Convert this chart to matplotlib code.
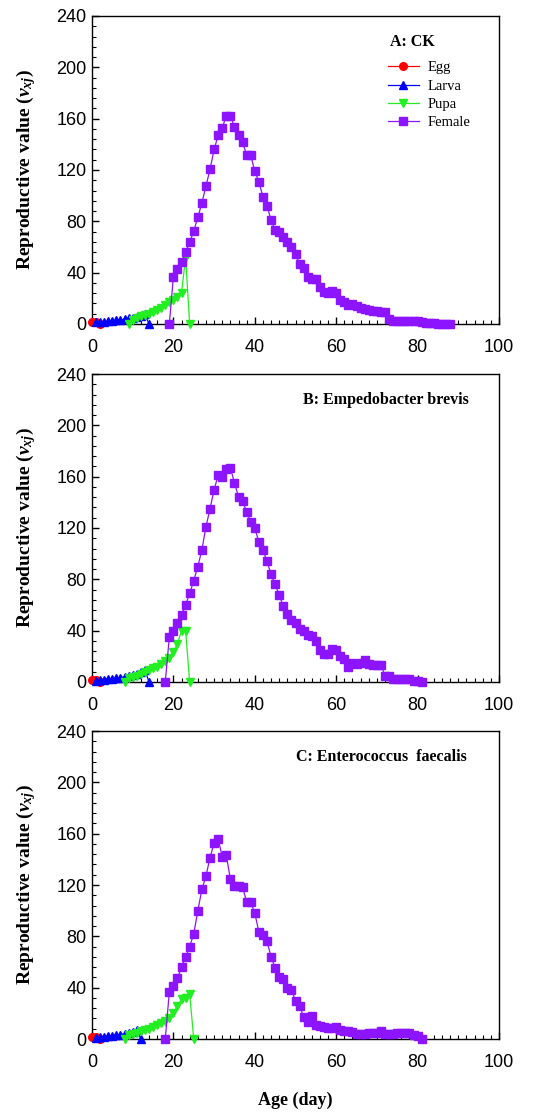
import numpy as np
import matplotlib
matplotlib.use('Agg')
import matplotlib.pyplot as plt
from matplotlib.ticker import MultipleLocator

plt.rcParams['mathtext.fontset'] = 'custom'
plt.rcParams['mathtext.it'] = 'Liberation Serif:italic:bold'
plt.rcParams['mathtext.rm'] = 'Liberation Serif:bold'

# ---- data (age in days, start age + values) ----
stage_names = ['Egg', 'Larva', 'Pupa', 'Female']
panel_titles = ['A: CK', 'B: Empedobacter brevis', 'C: Enterococcus  faecalis']

egg_start = [0, 0, 0]
egg_a = [1.5, 1.6, 0]
egg_b = [1.4, 1.6, 0]
egg_c = [1.4, 1.6, 0]

larva_start = [1, 1, 1]
larva_a = [1.2, 1.5, 1.8, 2.1, 2.4, 2.8, 3.2, 3.7, 4.3, 5.0, 5.8, 6.6, 7.5, 0]
larva_b = [1.0, 1.4, 1.8, 2.2, 2.6, 3.0, 3.5, 4.0, 4.6, 5.4, 6.2, 7.5, 9.5, 0]
larva_c = [1.0, 1.4, 1.8, 2.2, 2.6, 3.0, 3.5, 4.0, 4.8, 5.8, 7.0, 0]

pupa_start = [9, 8, 8]
pupa_a = [0, 3.5, 5, 6, 7, 8, 9.5, 11, 12.5, 14.5, 17, 19, 21, 24.5, 52, 0]
pupa_b = [0, 3, 4, 5, 6, 8, 9, 11, 12, 14, 16, 19, 23, 30, 40, 40, 0]
pupa_c = [0, 3, 4, 5, 6, 7, 8, 9.5, 11, 12.5, 14, 16, 20, 26, 31, 32, 35, 0]

female_start = [19, 18, 18]
female_a = [0, 37, 42.5, 48.5, 56, 63.6, 72.6, 83, 94.4, 107.4, 120.6, 136, 147, 153,
            162, 162, 153.6, 147, 141.7, 131.5, 131.5, 119, 111, 99, 92, 81, 73, 72,
            68, 63.6, 60, 54.5, 46.7, 44, 37, 35, 35, 28.5, 24.6, 24, 26, 24.4, 18.7,
            17.4, 14.8, 15.3, 13.8, 12.5, 11.7, 11, 10.4, 9.9, 9.6, 9, 3.6, 2.6, 2.3,
            2.3, 2, 2, 2, 2, 1.5, 1, 0.6, 0.4, 0.3, 0.2, 0.1, 0.05]
female_b = [0, 35, 40, 46, 52, 60, 69, 79, 90, 103, 121, 135, 150, 161, 160, 166, 167,
            155, 144.5, 141, 132.5, 125, 120, 109, 103, 94, 84, 76, 68, 59, 53, 48.5,
            46, 41, 39.5, 37, 35.5, 32, 24.6, 22, 22, 26, 25, 20, 18, 12, 15, 14, 15,
            17, 14, 13, 13, 13, 5, 4.4, 2.3, 2.3, 2.3, 2.3, 2, 0.6, 0.5, 0]
female_c = [0, 36.6, 41.5, 47.2, 56.3, 63.8, 72, 82, 100, 116.5, 127, 141.4, 152.5, 156,
            142, 143, 124.5, 119, 119, 118.5, 106.6, 106.6, 98, 83.5, 81, 76, 64, 55.5,
            48, 47, 40, 38, 30, 26, 17, 13, 17.6, 11, 10, 9, 8.6, 8.6, 9, 6.7, 6.5, 6,
            5.2, 4, 4, 4, 4.6, 4.6, 4.6, 6, 3.9, 3.9, 3.9, 4.4, 4.9, 4.9, 4.6, 3.4, 2, 0]

stage_colors = ['#ff0000', '#0000ff', '#22ee22', '#8c14ff']
stage_markers = ['o', '^', 'v', 's']
stage_msize = [5.5, 5.5, 5.5, 6]

panels = [
    [(egg_start[0], egg_a), (larva_start[0], larva_a), (pupa_start[0], pupa_a), (female_start[0], female_a)],
    [(egg_start[1], egg_b), (larva_start[1], larva_b), (pupa_start[1], pupa_b), (female_start[1], female_b)],
    [(egg_start[2], egg_c), (larva_start[2], larva_c), (pupa_start[2], pupa_c), (female_start[2], female_c)],
]

W, H = 550, 1113
fig = plt.figure(figsize=(W / 100, H / 100), dpi=100)

# axes boxes in pixels: (left, top, right, bottom)
boxes = [(92, 16, 499, 324), (92, 374, 499, 682), (92, 731, 499, 1039)]
title_x = [0.732, 0.518, 0.500]

ylab = r'Reproductive value ($\mathit{v}_{\mathit{xj}}$)'

for i, (box, series) in enumerate(zip(boxes, panels)):
    l, t, r, b = box
    ax = fig.add_axes([l / W, 1 - b / H, (r - l) / W, (b - t) / H])
    for k, (start, vals) in enumerate(series):
        ages = np.arange(start, start + len(vals))
        ax.plot(ages, vals, color=stage_colors[k], marker=stage_markers[k],
                markersize=stage_msize[k], linewidth=0.9, label=stage_names[k],
                clip_on=False, zorder=4 if k == 3 else 3)
    ax.set_xlim(0, 100)
    ax.set_ylim(0, 240)
    ax.xaxis.set_major_locator(MultipleLocator(20))
    ax.xaxis.set_minor_locator(MultipleLocator(2))
    ax.yaxis.set_major_locator(MultipleLocator(40))
    ax.yaxis.set_minor_locator(MultipleLocator(8))
    ax.tick_params(which='both', direction='in', top=False, right=False)
    ax.tick_params(which='major', length=5, width=1)
    ax.tick_params(which='minor', length=3, width=0.8)
    ax.tick_params(axis='x', which='major', pad=11)
    ax.tick_params(axis='y', which='major', pad=4)
    for lab in ax.get_xticklabels() + ax.get_yticklabels():
        lab.set_fontfamily('Liberation Sans')
        lab.set_fontsize(13)
    for sp in ax.spines.values():
        sp.set_linewidth(1.0)
    ax.set_ylabel(ylab, fontfamily='Liberation Serif', fontweight='bold',
                  fontsize=14, labelpad=13)
    ax.text(title_x[i], 0.916, panel_titles[i], transform=ax.transAxes,
            ha='left', va='center', fontfamily='Liberation Serif',
            fontweight='bold', fontsize=11.5)
    if i == 0:
        ax.legend(loc='upper left', bbox_to_anchor=(0.727, 0.853), frameon=False,
                  prop={'family': 'Liberation Serif', 'size': 10.5},
                  handlelength=2.1, handletextpad=0.6, labelspacing=0.35,
                  borderaxespad=0, borderpad=0)
    if i == 2:
        ax.set_xlabel('Age (day)', fontfamily='Liberation Serif', fontweight='bold',
                      fontsize=13, labelpad=15)

fig.savefig('out.png', dpi=100)
